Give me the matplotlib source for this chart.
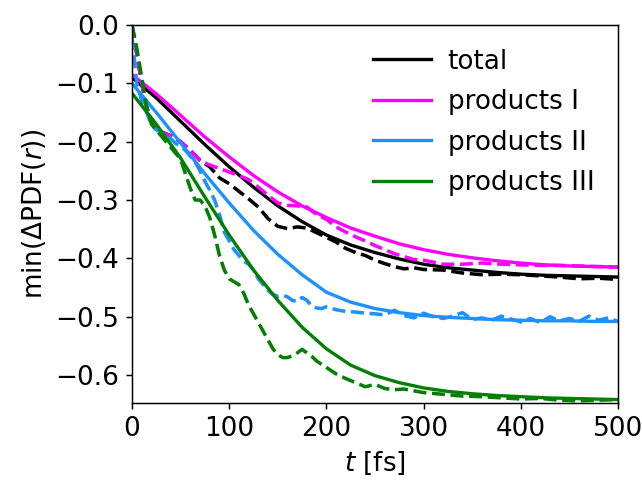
import numpy as np
import matplotlib
matplotlib.use("Agg")
import matplotlib.pyplot as plt

# --- fitted curves (solid), sampled every 25 fs ---
t_fit = [0, 25, 50, 75, 100, 125, 150, 175, 200, 225, 250, 275, 300,
         325, 350, 375, 400, 425, 450, 475, 500]
fit_total = [-0.090, -0.125, -0.165, -0.205, -0.243, -0.278, -0.310, -0.337, -0.360, -0.377, -0.390,
             -0.401, -0.410, -0.416, -0.420, -0.424, -0.427, -0.429, -0.430, -0.431, -0.432]
fit_p1 = [-0.085, -0.118, -0.155, -0.192, -0.226, -0.258, -0.286, -0.310, -0.330, -0.348, -0.362,
          -0.375, -0.385, -0.393, -0.399, -0.404, -0.408, -0.411, -0.413, -0.414, -0.415]
fit_p2 = [-0.100, -0.150, -0.202, -0.255, -0.305, -0.352, -0.393, -0.428, -0.458, -0.475, -0.486,
          -0.493, -0.498, -0.501, -0.503, -0.505, -0.506, -0.507, -0.507, -0.508, -0.508]
fit_p3 = [-0.117, -0.170, -0.228, -0.295, -0.360, -0.420, -0.472, -0.518, -0.555, -0.583, -0.601,
          -0.613, -0.622, -0.628, -0.632, -0.635, -0.637, -0.639, -0.640, -0.641, -0.642]

# --- simulation data (dashed) ---
t_tot = [0, 5, 10, 15, 20, 25, 30, 40, 50, 60, 70, 80, 90, 100, 110, 120, 130, 140, 150,
         160, 170, 180, 190, 200, 210, 220, 230, 240, 250, 260, 270, 280, 290, 300,
         320, 340, 360, 380, 400, 420, 440, 460, 480, 500]
data_total = [0.0, -0.05, -0.10, -0.14, -0.165, -0.178, -0.183, -0.19, -0.20, -0.215, -0.232,
              -0.243, -0.262, -0.272, -0.285, -0.298, -0.312, -0.332, -0.345, -0.349, -0.346,
              -0.348, -0.356, -0.364, -0.372, -0.383, -0.390, -0.395, -0.403, -0.409, -0.414,
              -0.418, -0.416, -0.419, -0.420, -0.425, -0.428, -0.427, -0.428, -0.430, -0.432,
              -0.435, -0.434, -0.436]
data_p1 = [0.0, -0.05, -0.10, -0.14, -0.165, -0.178, -0.183, -0.19, -0.20, -0.215, -0.232,
           -0.240, -0.246, -0.252, -0.258, -0.265, -0.278, -0.292, -0.305, -0.309, -0.310,
           -0.312, -0.325, -0.333, -0.346, -0.355, -0.363, -0.370, -0.378, -0.385, -0.392,
           -0.397, -0.402, -0.403, -0.410, -0.410, -0.408, -0.410, -0.411, -0.412, -0.412,
           -0.413, -0.414, -0.415]

t_p2 = [0, 5, 10, 15, 20, 25, 30, 35, 40, 45, 50, 55, 60, 65, 70, 75, 80, 85, 90, 95, 100,
        105, 110, 115, 120, 125, 130, 135, 140, 145, 150, 155, 160, 165, 170, 175, 180, 185,
        190, 195, 200, 210, 220, 230, 240, 250, 260, 270, 280, 290, 300, 310, 320, 330, 340,
        350, 360, 370, 380, 390, 400, 410, 420, 430, 440, 450, 460, 470, 480, 490, 500]
data_p2 = [-0.02, -0.10, -0.13, -0.15, -0.17, -0.18, -0.183, -0.188, -0.195, -0.203, -0.208,
           -0.215, -0.225, -0.235, -0.250, -0.268, -0.283, -0.300, -0.325, -0.355, -0.370,
           -0.385, -0.395, -0.405, -0.410, -0.420, -0.435, -0.445, -0.455, -0.462, -0.465,
           -0.463, -0.466, -0.472, -0.474, -0.467, -0.472, -0.482, -0.485, -0.486, -0.483,
           -0.488, -0.491, -0.492, -0.494, -0.495, -0.497, -0.489, -0.498, -0.502, -0.494,
           -0.500, -0.503, -0.499, -0.493, -0.505, -0.502, -0.506, -0.499, -0.504, -0.509,
           -0.503, -0.510, -0.500, -0.507, -0.503, -0.508, -0.499, -0.506, -0.502, -0.508]

t_p3 = [0, 5, 10, 15, 20, 25, 30, 35, 40, 45, 50, 55, 60, 65, 70, 75, 80, 85, 90, 95, 100,
        105, 110, 115, 120, 125, 130, 135, 140, 145, 150, 155, 160, 165, 170, 175, 180, 185,
        190, 200, 210, 220, 230, 240, 250, 260, 270, 280, 290, 300, 320, 340, 360, 380, 400,
        420, 440, 460, 480, 500]
data_p3 = [0.0, -0.04, -0.09, -0.14, -0.17, -0.18, -0.19, -0.20, -0.21, -0.22, -0.23, -0.255,
           -0.28, -0.30, -0.30, -0.31, -0.33, -0.36, -0.395, -0.42, -0.435, -0.44, -0.445,
           -0.46, -0.48, -0.495, -0.51, -0.525, -0.54, -0.555, -0.565, -0.57, -0.57, -0.567,
           -0.562, -0.556, -0.562, -0.568, -0.576, -0.587, -0.598, -0.606, -0.613, -0.62,
           -0.616, -0.623, -0.625, -0.624, -0.627, -0.63, -0.633, -0.636, -0.637, -0.639,
           -0.641, -0.64, -0.643, -0.644, -0.643, -0.642]

labels = ["total", "products I", "products II", "products III"]
colors = ["black", "magenta", "dodgerblue", "green"]

DPI = 133.33
plt.rcParams["font.size"] = 14.2
plt.rcParams["mathtext.fontset"] = "dejavusans"

fig = plt.figure(figsize=(642 / DPI, 481 / DPI), dpi=DPI)
ax = fig.add_axes([0.2056, 0.162, 0.757, 0.786])

fits = [fit_total, fit_p1, fit_p2, fit_p3]
datas = [(t_tot, data_total), (t_tot, data_p1), (t_p2, data_p2), (t_p3, data_p3)]

for lab, col, fy, (td, dy) in zip(labels, colors, fits, datas):
    ax.plot(t_fit, fy, color=col, lw=1.8, label=lab)
    ax.plot(td, dy, color=col, lw=1.9, ls="--")

ax.set_xlim(0, 500)
ax.set_ylim(-0.648, 0)
ax.set_xticks([0, 100, 200, 300, 400, 500])
ax.set_yticks([0.0, -0.1, -0.2, -0.3, -0.4, -0.5, -0.6])
ax.set_yticklabels(["0.0", "\u22120.1", "\u22120.2", "\u22120.3", "\u22120.4", "\u22120.5", "\u22120.6"])
ax.set_xlabel("$t$ [fs]")
ax.set_ylabel("min(\u0394PDF($r$))")
ax.legend(loc="upper right", frameon=False, handlelength=2.2, handletextpad=0.63,
          labelspacing=0.55, bbox_to_anchor=(1.0, 1.0))

fig.savefig("out.png", dpi=DPI)
